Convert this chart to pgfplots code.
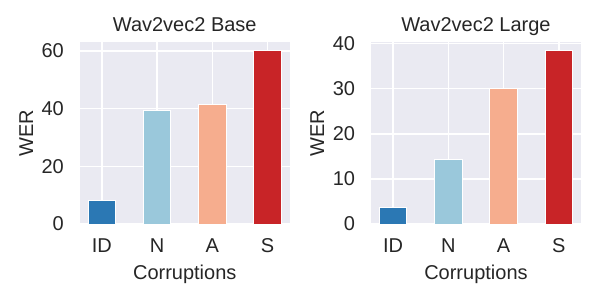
\documentclass[border=0pt]{standalone}
\usepackage{fontspec}
\setmainfont{Liberation Sans}
\usepackage{pgfplots}
\pgfplotsset{compat=1.18}
\definecolor{bgc}{RGB}{234,234,242}
\definecolor{txt}{RGB}{38,38,38}
\definecolor{cID}{RGB}{43,120,180}
\definecolor{cN}{RGB}{154,200,219}
\definecolor{cA}{RGB}{246,173,142}
\definecolor{cS}{RGB}{200,36,39}
\newcommand\ff{\fontsize{20bp}{24bp}\selectfont}
\pgfplotsset{
  sbstyle/.style={
    scale only axis,
    width=210.5bp, height=181.7bp,
    anchor=south west,
    axis background/.style={fill=bgc},
    axis line style={draw=none},
    major tick length=0pt,
    grid=major,
    major grid style={white, line width=1.6bp},
    xmin=-0.405, xmax=3.405,
    ymin=0,
    xtick={0,1,2,3},
    xticklabels={ID,N,A,S},
    /pgf/number format/assume math mode=true,
    tick label style={font=\ff, text=txt, inner sep=0pt},
    xticklabel style={anchor=base, yshift=-28.7bp},
    yticklabel style={anchor=east, xshift=-15.5bp},
    every axis title/.style={at={(0.5,1)}, anchor=base, yshift=10.6bp, inner sep=0pt, font=\ff, text=txt},
    every axis x label/.style={at={(0.5,0)}, anchor=base, yshift=-55.3bp, inner sep=0pt, font=\ff, text=txt},
    every axis y label/.style={at={(0,0.5)}, xshift=-46.5bp, rotate=90, anchor=base, inner sep=0pt, font=\ff, text=txt},
    xlabel={Corruptions},
    ylabel={WER},
    ybar,
    bar width=0.5,
    bar shift=0pt,
    every axis plot/.append style={draw=white, line width=1bp},
  }
}
\begin{document}
\begin{tikzpicture}
\useasboundingbox (0,0) rectangle (600bp,300bp);
\begin{axis}[sbstyle, at={(79.5bp,76bp)}, title={Wav2vec2 Base}, ymax=63, ytick={0,20,40,60}]
\addplot[fill=cID] coordinates {(0,8.2)};
\addplot[fill=cN] coordinates {(1,39.35)};
\addplot[fill=cA] coordinates {(2,41.4)};
\addplot[fill=cS] coordinates {(3,60.0)};
\end{axis}
\begin{axis}[sbstyle, at={(370.7bp,76bp)}, title={Wav2vec2 Large}, ymax=40.25, ytick={0,10,20,30,40}]
\addplot[fill=cID] coordinates {(0,3.65)};
\addplot[fill=cN] coordinates {(1,14.2)};
\addplot[fill=cA] coordinates {(2,30.0)};
\addplot[fill=cS] coordinates {(3,38.4)};
\end{axis}
\end{tikzpicture}
\end{document}
